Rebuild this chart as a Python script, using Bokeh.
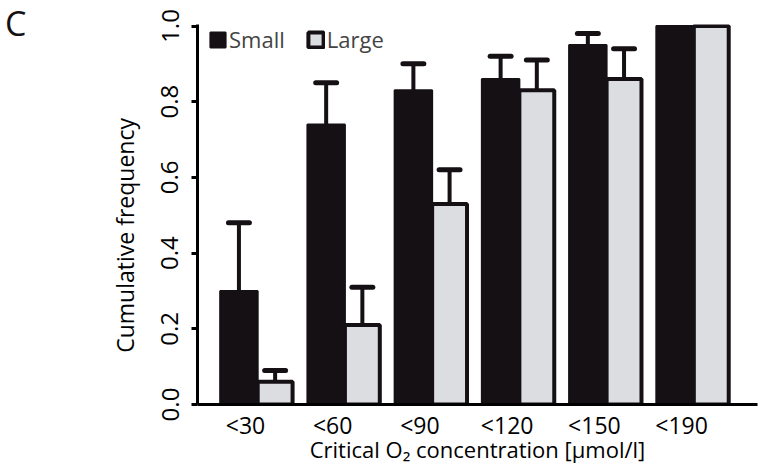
import numpy as np
from bokeh.plotting import figure
from bokeh.layouts import row
from bokeh.models import ColumnDataSource, FixedTicker, Legend, LegendItem, Range1d, Div
from bokeh.embed import file_html
from bokeh.resources import INLINE

categories = ["<30", "<60", "<90", "<120", "<150", "<190"]
small = [0.30, 0.74, 0.83, 0.86, 0.95, 1.0]
small_err = [0.48, 0.85, 0.90, 0.92, 0.98, 1.0]
large = [0.06, 0.21, 0.53, 0.83, 0.86, 1.0]
large_err = [0.09, 0.31, 0.62, 0.91, 0.94, 1.0]
y_ticks = [0.0, 0.2, 0.4, 0.6, 0.8, 1.0]

FONT = "Open Sans"
BLACK = "#141014"
GRAY = "#dcdde0"

idx = np.arange(len(categories))
xs_small = idx - 0.075
xs_large = idx + 0.34

DIV_W = 30
p = figure(frame_width=560, frame_height=380, output_backend="svg", toolbar_location=None,
           x_range=Range1d(-0.55, 5.87), y_range=Range1d(0, 1.004),
           min_border_left=197 - DIV_W, min_border_right=4, min_border_top=24, min_border_bottom=40)
p.outline_line_color = None
p.grid.visible = False
p.background_fill_color = None
p.border_fill_color = None

src_s = ColumnDataSource(dict(x=xs_small, top=small))
src_l = ColumnDataSource(dict(x=xs_large, top=large))
r_s = p.vbar(x="x", top="top", width=0.43, source=src_s, fill_color=BLACK, line_color=BLACK, line_width=2)
r_l = p.vbar(x="x", top="top", width=0.40, source=src_l, fill_color=GRAY, line_color=BLACK, line_width=4)

# error bars (upper only)
def add_err(xs, vals, errs):
    ex = [x for x, v, e in zip(xs, vals, errs) if e > v]
    ev = [v for v, e in zip(vals, errs) if e > v]
    ee = [e for v, e in zip(vals, errs) if e > v]
    src = ColumnDataSource(dict(x=ex, v=ev, e=ee, x0=[x - 0.12 for x in ex], x1=[x + 0.12 for x in ex]))
    p.segment(x0="x", x1="x", y0="v", y1="e", source=src, line_color=BLACK, line_width=4)
    p.segment(x0="x0", x1="x1", y0="e", y1="e", source=src, line_color=BLACK, line_width=5, line_cap="round")

add_err(xs_small, small, small_err)
add_err(xs_large, large, large_err)

# axes
xa = p.xaxis[0]
xa.ticker = FixedTicker(ticks=list(idx))
xa.major_label_overrides = {int(i): c for i, c in zip(idx, categories)}
xa.major_tick_line_color = None
xa.major_tick_out = 0
xa.major_tick_in = 0
xa.minor_tick_line_color = None
xa.axis_line_width = 3
xa.axis_line_color = "black"
xa.major_label_text_font = FONT
xa.major_label_text_font_size = "23px"
xa.major_label_text_color = "black"
xa.major_label_standoff = 4
xa.axis_label = "Critical O\u2082 concentration [\u00b5mol/l]"
xa.axis_label_text_font = FONT
xa.axis_label_text_font_size = "22px"
xa.axis_label_text_font_style = "normal"
xa.axis_label_text_color = "black"
xa.axis_label_standoff = -10

ya = p.yaxis[0]
ya.ticker = FixedTicker(ticks=y_ticks)
ya.major_label_overrides = {0: "0.0", 1: "1.0"}
ya.minor_tick_line_color = None
ya.major_tick_in = 0
ya.major_tick_out = 6
ya.major_tick_line_width = 3
ya.axis_line_width = 3
ya.major_label_orientation = "vertical"
ya.major_label_text_font = FONT
ya.major_label_text_font_size = "24px"
ya.major_label_text_color = "black"
ya.major_label_standoff = 13
ya.axis_label = "Cumulative frequency" + "\u00a0" * 7
ya.axis_label_text_font = FONT
ya.axis_label_text_font_size = "23px"
ya.axis_label_text_font_style = "normal"
ya.axis_label_text_color = "black"
ya.axis_label_standoff = 18

legend = Legend(items=[LegendItem(label="Small", renderers=[r_s]), LegendItem(label="Large", renderers=[r_l])],
                orientation="horizontal", location=(11, 350), background_fill_alpha=0,
                border_line_color=None, label_text_font=FONT, label_text_font_size="22px",
                glyph_width=19, glyph_height=19, padding=0, margin=0, spacing=21, label_standoff=2)
p.add_layout(legend)

panel = Div(text="C", width=DIV_W, height=50, margin=(0, 0, 0, 0),
            styles={"font-family": "Open Sans", "font-size": "34px", "line-height": "1",
                    "padding-left": "5px", "padding-top": "6px", "color": "#141014"})

layout = row(panel, p, spacing=0)
open("out.html", "w").write(file_html(layout, INLINE))
